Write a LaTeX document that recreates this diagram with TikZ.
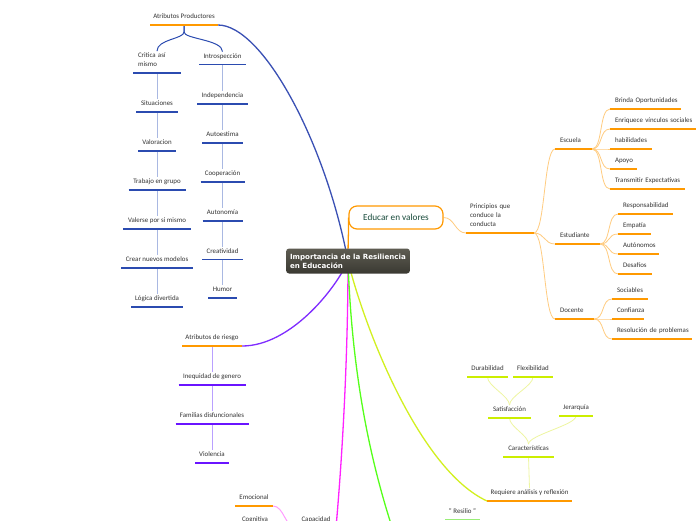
\documentclass[tikz,border=0pt]{standalone}
\usepackage{fontspec}
\setmainfont{Carlito}
\newfontfamily\ctrfont{DejaVu Sans}
\usetikzlibrary{calc,backgrounds}
\definecolor{txt}{HTML}{333333}
\definecolor{orU}{HTML}{FF9900}
\definecolor{orL}{HTML}{FFCC80}
\definecolor{blU}{HTML}{2B4BB0}
\definecolor{blM}{HTML}{3A50B4}
\definecolor{blL}{HTML}{A9B8E2}
\definecolor{puU}{HTML}{6A14FF}
\definecolor{puM}{HTML}{7F2CFF}
\definecolor{puL}{HTML}{B9A0FF}
\definecolor{ygU}{HTML}{CCEE00}
\definecolor{ygM}{HTML}{D2F020}
\definecolor{ygL}{HTML}{EEF6A0}
\definecolor{grM}{HTML}{55FF1A}
\definecolor{grU}{HTML}{99EE77}
\definecolor{mgM}{HTML}{FF22FF}
\definecolor{pkL}{HTML}{FF9CFF}
\definecolor{ctrtop}{HTML}{5E5C52}
\definecolor{ctrbot}{HTML}{3A3932}
\definecolor{edtxt}{HTML}{174A3A}
\newcommand{\topst}{\rule{0pt}{6.6pt}}
\newcommand{\botst}{\rule[-6.3pt]{0pt}{6.3pt}}
\newcommand{\lbsize}{\fontsize{6.9}{9}\selectfont}
\newcommand{\hcurve}[3]{\draw[#1] (#2) .. controls ($(#2)+(11,0)$) and ($(#3)+(-11,0)$) .. (#3);}
\newcommand{\vcurve}[3]{\draw[#1] (#2) .. controls ($(#2)+(0,-9)$) and ($(#3)+(0,9)$) .. (#3);}
\begin{document}
\begin{tikzpicture}[x=1pt,y=-1pt,
  lbl/.style={font=\lbsize, text=txt, inner xsep=0pt, inner ysep=0pt, outer sep=0pt,
    anchor=south, minimum width=#1, execute at begin node=\topst, execute at end node=\botst},
  ul/.style={append after command={(\tikzlastnode.south west) edge[draw=#1, line width=1.3pt] (\tikzlastnode.south east)}},
  lft/.style={text width=#1, align=left, inner xsep=5pt, anchor=south west},
  trunk/.style={line width=1.3pt},
  conn/.style={line width=0.8pt},
  ctrnode/.style={rounded corners=3pt, top color=ctrtop, bottom color=ctrbot, text=white,
    font=\ctrfont\bfseries\fontsize{7.1}{9}\selectfont, align=left, minimum width=122pt,
    minimum height=25pt, inner xsep=4pt, inner ysep=3pt},
  edubox/.style={draw=orU, line width=1.2pt, rounded corners=8pt, fill=white, minimum width=94pt,
    minimum height=23pt, inner sep=0pt, font=\fontsize{9.2}{11}\selectfont, text=edtxt}
]
\useasboundingbox (0,0) rectangle (696,520);

% ---- nodes ----
\node[ctrnode] (ctr) at (348,261) {Importancia de la Resiliencia\\en Educación};
\node[edubox] (edu) at (396,217.5) {Educar en valores};

\node[lbl=68pt, ul=orU] (ap) at (184,25) {Atributos Productores};
\node[lbl=48pt, text width=38pt, align=left, inner xsep=5pt, ul=blU] (crit) at (157,73) {Critica así\\mismo};
\node[lbl=42pt, ul=blU] (sit) at (157,112) {Situaciones};
\node[lbl=38pt, ul=blU] (valo) at (157,151) {Valoracion};
\node[lbl=57pt, ul=blU] (trab) at (157,190) {Trabajo en grupo};
\node[lbl=68pt, ul=blU] (vale) at (157,229) {Valerse por si mismo};
\node[lbl=72pt, ul=blU] (crea) at (157,268) {Crear nuevos modelos};
\node[lbl=52pt, ul=blU] (logi) at (157,307) {Lógica divertida};

\node[lbl=47pt, ul=blU] (intr) at (222.5,64.5) {Introspección};
\node[lbl=51pt, ul=blU] (inde) at (222.5,104) {Independencia};
\node[lbl=41pt, ul=blU] (aues) at (222.5,143) {Autoestima};
\node[lbl=44pt, ul=blU] (coop) at (222.5,182) {Cooperación};
\node[lbl=40pt, ul=blU] (auto) at (222.5,221) {Autonomía};
\node[lbl=41pt, ul=blU] (crev) at (222.5,259.5) {Creatividad};
\node[lbl=29pt, ul=blU] (humo) at (222.5,298) {Humor};

\node[lbl=60pt, ul=orU] (ar) at (212,346) {Atributos de riesgo};
\node[lbl=67pt, ul=puU] (ineq) at (212,385) {Inequidad de genero};
\node[lbl=73pt, ul=puU] (fam) at (212,424) {Familias disfuncionales};
\node[lbl=34pt, ul=puU] (viol) at (212,463) {Violencia};

\node[lbl=68pt, lft=60pt, inner xsep=4pt, ul=orU] (prin) at (466,233) {Principios que\\conduce la\\conducta};
\node[lbl=37pt, lft=27pt, ul=orU] (esc) at (555,149) {\mbox{Escuela}};
\node[lbl=45pt, lft=35pt, ul=orU] (est) at (555,244) {\mbox{Estudiante}};
\node[lbl=39pt, lft=29pt, ul=orU] (doc) at (555,319) {\mbox{Docente}};
\node[lbl=71pt, lft=61pt, ul=orU] (brin) at (610,109) {\mbox{Brinda Oportunidades}};
\node[lbl=86pt, lft=76pt, ul=orU] (enri) at (610,129) {\mbox{Enriquece vínculos sociales}};
\node[lbl=42pt, lft=32pt, ul=orU] (habi) at (610,149) {\mbox{habilidades}};
\node[lbl=27pt, lft=17pt, ul=orU] (apoy) at (610,169) {\mbox{Apoyo}};
\node[lbl=75pt, lft=65pt, ul=orU] (tran) at (610,189) {\mbox{Transmitir Expectativas}};
\node[lbl=55pt, lft=45pt, ul=orU] (resp) at (618,214) {\mbox{Responsabilidad}};
\node[lbl=33pt, lft=23pt, ul=orU] (empa) at (618,234) {\mbox{Empatía}};
\node[lbl=41pt, lft=31pt, ul=orU] (auno) at (618,254) {\mbox{Autónomos}};
\node[lbl=34pt, lft=24pt, ul=orU] (desa) at (618,274) {\mbox{Desafíos}};
\node[lbl=36pt, lft=26pt, ul=orU] (soci) at (612,299) {\mbox{Sociables}};
\node[lbl=32pt, lft=22pt, ul=orU] (conf) at (612,319) {\mbox{Confianza}};
\node[lbl=80pt, lft=70pt, ul=orU] (reso) at (612,339) {\mbox{Resolución de problemas}};

\node[lbl=85pt, ul=orU] (req) at (529.5,501) {Requiere análisis y reflexión};
\node[lbl=51pt, ul=ygU] (car) at (528.5,457) {Características};
\node[lbl=43pt, ul=ygU] (sat) at (509.5,418) {Satisfacción};
\node[lbl=34pt, ul=ygU] (jer) at (576,416) {Jerarquía};
\node[lbl=41pt, ul=ygU] (dur) at (487.5,377) {Durabilidad};
\node[lbl=40pt, ul=ygU] (flex) at (533,377) {Flexibilidad};

\node[lbl=38pt, ul=orU] (emo) at (254,506) {Emocional};
\node[lbl=36pt, ul=orU] (cog) at (255,527.5) {Cognitiva};
\node[lbl=40pt, ul=mgM] (cap) at (316,527.5) {Capacidad};
\node[lbl=35pt, ul=grU] (resi) at (462.5,519.5) {" Resilio "};
\coordinate (gend) at (398,545);

% ---- connectors ----
\begin{scope}[on background layer]
\fill[white] (0,0) rectangle (696,520);
\draw[blM, trunk] (ap.south east) .. controls (262,25) and (325,140) .. (ctr.center);
\draw[puM, trunk] (ar.south east) .. controls (290,346) and (335,290) .. (ctr.center);
\draw[mgM, trunk] (ctr.center) .. controls (348,360) and (342,460) .. (cap.south east);
\draw[grM, trunk] (ctr.center) .. controls (352,380) and (372,470) .. (gend);
\draw[ygM, trunk] (ctr.center) .. controls (365,330) and (420,470) .. (req.south west);
\draw[orU, trunk] (ctr.center) .. controls (348,235) and (349,228) .. (edu.west);

\draw[blU, line width=1pt] (ap.south) -- ($(ap.south)+(0,7)$) .. controls ($(ap.south)+(0,14)$) and ($(crit.north)+(0,-12)$) .. (crit.north);
\draw[blU, line width=1pt] (ap.south) -- ($(ap.south)+(0,7)$) .. controls ($(ap.south)+(0,14)$) and ($(intr.north)+(0,-12)$) .. (intr.north);

\draw[blL, conn] (crit.south) -- (sit.north);
\draw[blL, conn] (sit.south) -- (valo.north);
\draw[blL, conn] (valo.south) -- (trab.north);
\draw[blL, conn] (trab.south) -- (vale.north);
\draw[blL, conn] (vale.south) -- (crea.north);
\draw[blL, conn] (crea.south) -- (logi.north);
\draw[blL, conn] (intr.south) -- (inde.north);
\draw[blL, conn] (inde.south) -- (aues.north);
\draw[blL, conn] (aues.south) -- (coop.north);
\draw[blL, conn] (coop.south) -- (auto.north);
\draw[blL, conn] (auto.south) -- (crev.north);
\draw[blL, conn] (crev.south) -- (humo.north);

\draw[puL, conn] (ar.south) -- (ineq.north);
\draw[puL, conn] (ineq.south) -- (fam.north);
\draw[puL, conn] (fam.south) -- (viol.north);

\hcurve{orL,conn}{edu.east}{prin.south west}
\hcurve{orL,conn}{prin.south east}{esc.south west}
\hcurve{orL,conn}{prin.south east}{est.south west}
\hcurve{orL,conn}{prin.south east}{doc.south west}
\hcurve{orL,conn}{esc.south east}{brin.south west}
\hcurve{orL,conn}{esc.south east}{enri.south west}
\hcurve{orL,conn}{esc.south east}{habi.south west}
\hcurve{orL,conn}{esc.south east}{apoy.south west}
\hcurve{orL,conn}{esc.south east}{tran.south west}
\hcurve{orL,conn}{est.south east}{resp.south west}
\hcurve{orL,conn}{est.south east}{empa.south west}
\hcurve{orL,conn}{est.south east}{auno.south west}
\hcurve{orL,conn}{est.south east}{desa.south west}
\hcurve{orL,conn}{doc.south east}{soci.south west}
\hcurve{orL,conn}{doc.south east}{conf.south west}
\hcurve{orL,conn}{doc.south east}{reso.south west}

\draw[ygL, conn] (req.north) -- (car.south);
\vcurve{ygL,conn}{car.north}{sat.south}
\vcurve{ygL,conn}{car.north}{jer.south}
\vcurve{ygL,conn}{sat.north}{dur.south}
\vcurve{ygL,conn}{sat.north}{flex.south}

\hcurve{pkL,line width=1pt}{emo.south east}{cap.south west}
\end{scope}
\end{tikzpicture}
\end{document}
